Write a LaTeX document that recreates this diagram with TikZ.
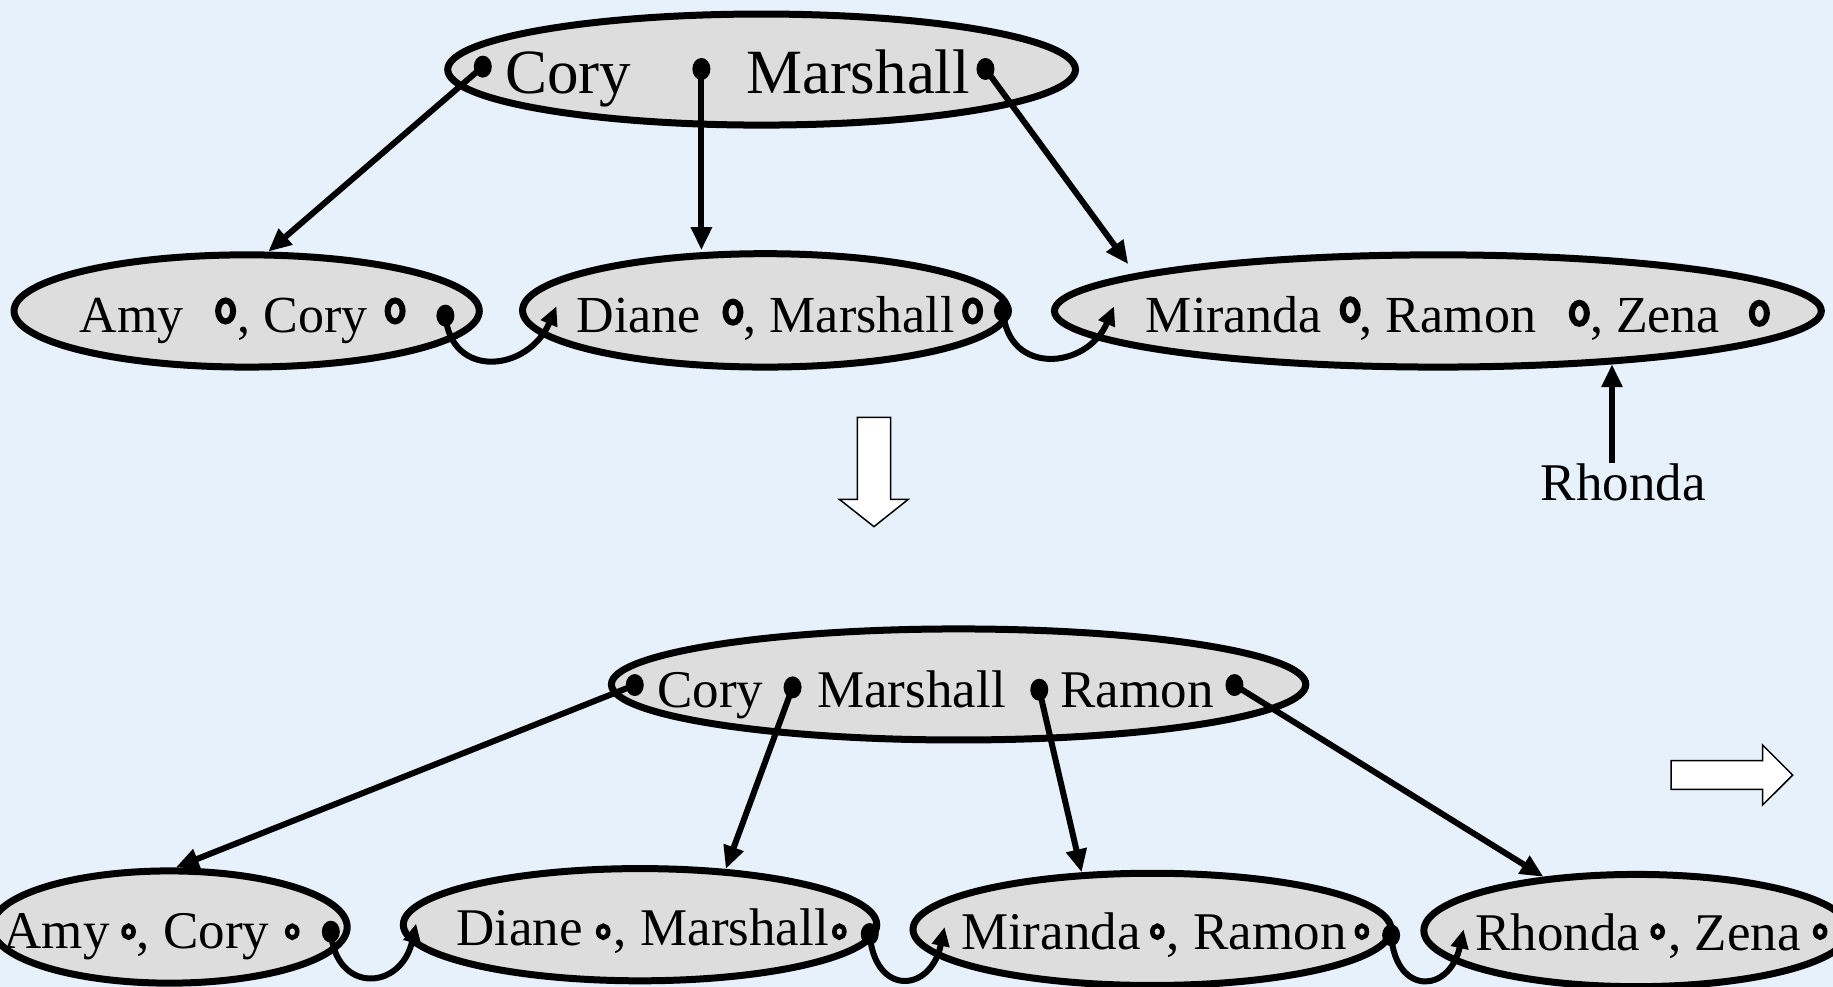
\documentclass[tikz,border=0pt]{standalone}
\usepackage{fontspec}
\setmainfont{Liberation Serif}
\usetikzlibrary{shapes.geometric,arrows.meta}
\definecolor{bg}{RGB}{230,241,252}
\definecolor{ovalfill}{RGB}{221,221,221}
\begin{document}
\begin{tikzpicture}[x=1.16901pt,y=-1.16901pt,
  oval/.style 2 args={ellipse, draw=black, line width=7pt, fill=ovalfill, inner sep=0pt,
    minimum width={#1*1.16901pt}, minimum height={#2*1.16901pt}},
  knob/.style={ellipse, fill=black, inner sep=0pt, minimum width=18pt, minimum height=22pt},
  hole/.style={ellipse, draw=black, line width=6pt, inner sep=0pt, minimum width=15pt, minimum height=21pt},
  smallhole/.style={ellipse, draw=black, line width=4.6pt, inner sep=0pt, minimum width=10pt, minimum height=12pt},
  word/.style={inner sep=0pt, anchor=base west, font=\fontsize{52}{60}\selectfont},
  bigword/.style={word, font=\fontsize{63}{72}\selectfont},
  midword/.style={word, font=\fontsize{53}{60}\selectfont},
  link/.style={line width=6pt, -{Triangle[length=23pt,width=20pt]}},
  hop/.style={line width=6pt, -{Triangle[length=19pt,width=17pt]}},
  block/.style={draw=black, line width=1.5pt, fill=white, line join=miter},
]
\useasboundingbox (0,0) rectangle (1568,844);
\clip (0,0) rectangle (1568,844);
\fill[bg] (0,0) rectangle (1568,844);

% ---------- upper tree: root ----------
\node[oval={537}{95}] (rootT) at (651.5,59.5) {};
\node[bigword] (wC1) at (432,80) {Cory};
\node[bigword] (wM1) at (638,80) {Marshall};
\node[knob] (d1) at (413,57) {};
\node[knob] (d2) at (600,59) {};
\node[knob] (d3) at (843,59) {};

% ---------- upper tree: leaves ----------
\node[oval={398}{96}] (amyT) at (211,266) {};
\node[oval={415}{97}] (dianeT) at (654.5,265.5) {};
\node[oval={656}{96}] (mirT) at (1230,266) {};

\node[word] (wA2) at (68,284) {Amy};
\node[hole] (h1) at (193,266) {};
\node[word] (wC2) at (203,284) {, Cory};
\node[hole] (h2) at (338,266) {};
\node[knob] (k1) at (381,270) {};

\node[word] (wD2) at (493,284) {Diane};
\node[hole] (h3) at (627,267) {};
\node[word] (wM2) at (636,284) {, Marshall};
\node[hole] (h4) at (832,266) {};
\node[knob] (k2) at (858,266) {};

\node[word] (wMi2) at (980,284) {Miranda};
\node[hole] (h5) at (1155,265) {};
\node[word] (wR2) at (1163,284) {, Ramon};
\node[hole] (h6) at (1351,268) {};
\node[word] (wZ2) at (1360,284) {, Zena};
\node[hole] (h7) at (1505,268) {};

\node[midword] (rho) at (1318,428) {Rhonda};

% upper tree connectors
\draw[link] (d1.center) -- (amyT.70);
\draw[link] (d2.center) -- (d2 |- dianeT.north);
\draw[link, shorten >=12pt] (d3.center) -- (mirT.173);
\coordinate (inD) at (476,262);
\coordinate (inM) at (953,262);
\draw[hop] (k1.center) .. controls (386,325) and (452,318) .. (inD);
\draw[hop] (k2.center) .. controls (862,322) and (930,316) .. (inM);
\draw[link] (mirT.-17.6 |- rho.north) -- (mirT.-17.6);

% ---------- block arrows ----------
\draw[block] (733.4,357) -- (761.9,357) -- (761.9,427.1) -- (777,427.1) -- (747.6,450.5)
  -- (718,427.1) -- (733.4,427.1) -- cycle;
\draw[block] (1429.5,650.7) -- (1507.8,650.7) -- (1507.8,637.3) -- (1533.5,663)
  -- (1507.8,688.6) -- (1507.8,675.2) -- (1429.5,675.2) -- cycle;

% ---------- lower tree: root ----------
\node[oval={594}{95}] (rootB) at (820,585.5) {};
\node[midword] (wC3) at (562,605) {Cory};
\node[midword] (wM3) at (699,605) {Marshall};
\node[midword] (wR3) at (907,605) {Ramon};
\node[knob] (e1) at (543,586) {};
\node[knob] (e2) at (678,588) {};
\node[knob] (e3) at (889,590) {};
\node[knob] (e4) at (1056,586) {};

% ---------- lower tree: leaves ----------
\node[oval={304}{96}] (amyB) at (145,793) {};
\node[oval={405}{96}] (dianeB) at (547.5,791) {};
\node[oval={409}{96}] (mirB) at (985.5,795) {};
\node[oval={364}{96}] (rhoB) at (1400,796) {};

\node[midword] (wA4) at (3,811) {Amy};
\node[smallhole] (s1) at (110,797) {};
\node[midword] (wC4) at (117,811) {, Cory};
\node[smallhole] (s2) at (250,797) {};
\node[knob] (k4) at (283,797) {};

\node[midword] (wD4) at (390,809) {Diane};
\node[smallhole] (s3) at (516,797) {};
\node[midword] (wM4) at (525,809) {, Marshall};
\node[smallhole] (s4) at (718,797) {};
\node[knob] (k5) at (744,799) {};

\node[midword] (wMi4) at (822,812) {Miranda};
\node[smallhole] (s5) at (990,797) {};
\node[midword] (wR4) at (998,812) {, Ramon};
\node[smallhole] (s6) at (1165,797) {};
\node[knob] (k6) at (1190,800) {};

\node[midword] (wRh4) at (1262,813) {Rhonda};
\node[smallhole] (s7) at (1418,797) {};
\node[midword] (wZ4) at (1427,813) {, Zena};
\node[smallhole] (s8) at (1557,797) {};

% lower tree connectors
\draw[link] (e1.center) -- (amyB.84);
\draw[link] (e2.center) -- (dianeB.33.5);
\draw[link] (e3.center) -- (mirB.141);
\draw[link] (e4.center) -- (rhoB.150);
\coordinate (inDB) at (356,790);
\coordinate (inMB) at (808,793);
\coordinate (inRB) at (1252,795);
\draw[hop] (k4.center) .. controls (287,850) and (343,848) .. (inDB);
\draw[hop] (k5.center) .. controls (748,852) and (796,850) .. (inMB);
\draw[hop] (k6.center) .. controls (1194,852) and (1240,850) .. (inRB);
\end{tikzpicture}
\end{document}
